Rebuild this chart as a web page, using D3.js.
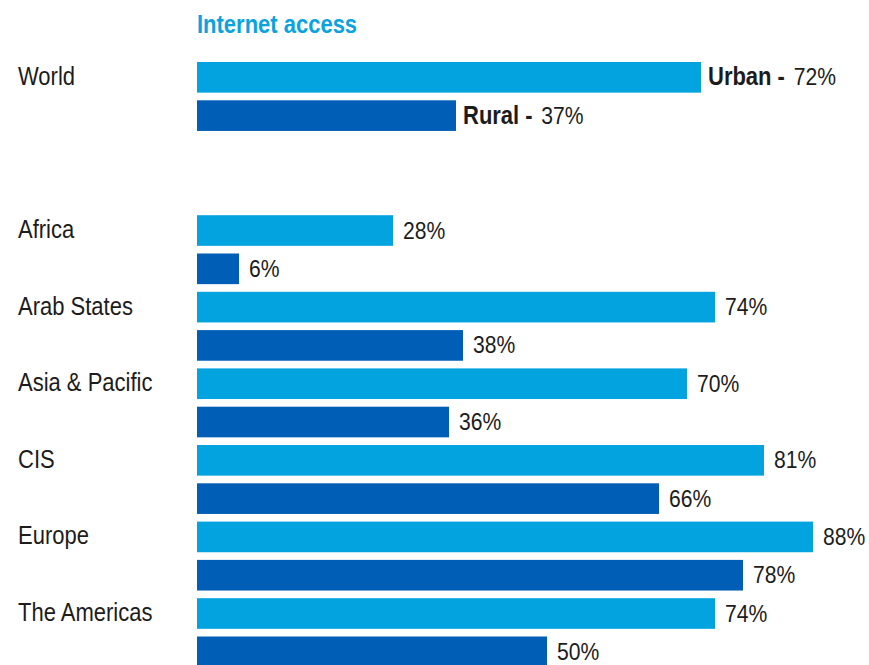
<!DOCTYPE html>
<html>
<head>
<meta charset="utf-8">
<script src="https://cdn.jsdelivr.net/npm/d3@7"></script>
<style>
  html, body { margin: 0; padding: 0; background: #fff; }
  svg text { font-family: 'Liberation Sans', Arial, sans-serif; fill: #1c1c1c; }
</style>
</head>
<body>
<svg id="chart"></svg>
<script>
const TITLE = 'Internet access'
const regions = ['World', 'Africa', 'Arab States', 'Asia & Pacific', 'CIS', 'Europe', 'The Americas']
const urbanValues = [72, 28, 74, 70, 81, 88, 74]
const ruralValues = [37, 6, 38, 36, 66, 78, 50]
const seriesNames = ['Urban', 'Rural']

const width = 869, height = 665
const X0 = 197
const STEP = 38.3
const SQUEEZE = 0.88
const colors = { Urban: '#03a3e0', Rural: '#005eb6' }

const $svg = d3.select('#chart').attr('width', width).attr('height', height)

// one slot per bar, two empty slots between World and the regions
const slots = []
regions.forEach((r, i) => {
    slots.push(r + '|Urban', r + '|Rural')
    if (i === 0) slots.push('gap1', 'gap2')
})

const bars = []
regions.forEach((r, i) => {
    bars.push({ region: r, series: 'Urban', value: urbanValues[i] })
    bars.push({ region: r, series: 'Rural', value: ruralValues[i] })
})

const x = d3.scaleLinear().domain([0, 100]).range([X0, X0 + 700])
const y = d3.scaleBand()
    .domain(slots)
    .range([62, 62 + STEP * (slots.length - 0.2)])
    .paddingInner(0.2)
    .paddingOuter(0)

const place = (px, py) => `translate(${px},${py}) scale(${SQUEEZE},1)`

// title
$svg.append('text')
    .attr('transform', place(X0, 33))
    .style('font-size', '25px')
    .style('font-weight', 'bold')
    .style('fill', '#0aa3de')
    .text(TITLE)

// bars
$svg.selectAll('.bar')
    .data(bars)
    .enter()
    .append('rect')
    .attr('class', 'bar')
    .attr('x', x(0))
    .attr('y', d => y(d.region + '|' + d.series))
    .attr('width', d => x(d.value) - x(0))
    .attr('height', y.bandwidth())
    .attr('fill', d => colors[d.series])

// region names
$svg.selectAll('.region-label')
    .data(regions)
    .enter()
    .append('text')
    .attr('class', 'region-label')
    .attr('transform', r => place(18, y(r + '|Urban') + y.bandwidth() / 2 + 7.5))
    .style('font-size', '25px')
    .text(r => r)

// value labels
const $vals = $svg.selectAll('.value-label')
    .data(bars)
    .enter()
    .append('text')
    .attr('class', 'value-label')
    .attr('transform', d => {
        const off = d.region === 'World' ? 7 : 10
        return place(x(d.value) + off, y(d.region + '|' + d.series) + y.bandwidth() / 2 + 8)
    })
    .style('font-size', '24px')

$vals.filter(d => d.region === 'World')
    .append('tspan')
    .style('font-weight', 'bold')
    .style('font-size', '25px')
    .text(d => d.series + ' - ')

$vals.append('tspan')
    .attr('dx', d => d.region === 'World' ? 3 : 0)
    .text(d => d.value + '%')
</script>
</body>
</html>
